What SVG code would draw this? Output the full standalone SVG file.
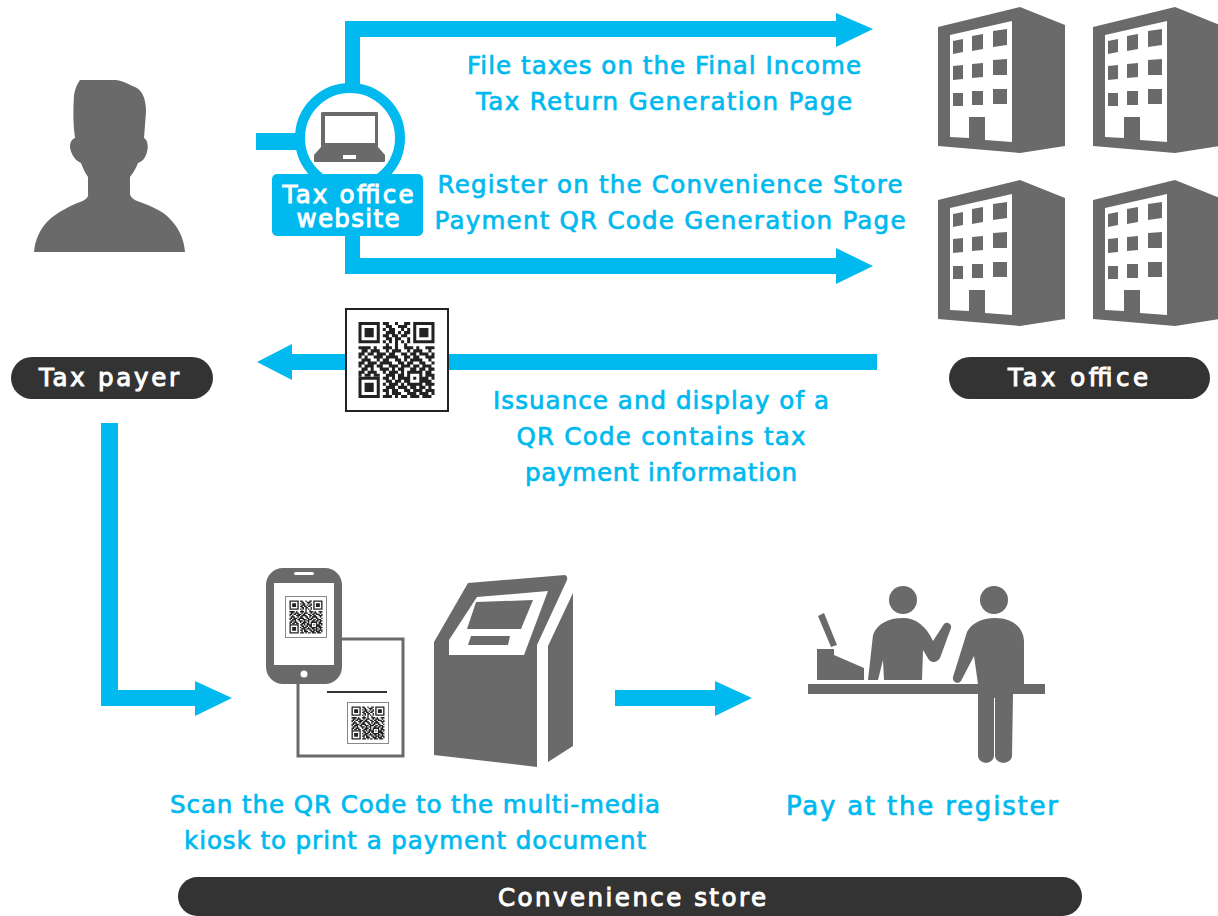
<svg xmlns="http://www.w3.org/2000/svg" xmlns:xlink="http://www.w3.org/1999/xlink" width="1218" height="916" viewBox="0 0 1218 916">
<style>
.b{fill:#00b9ef}
.g{fill:#6a6a6a}
.w{fill:#fff}
.t{font-family:"DejaVu Sans","Liberation Sans",sans-serif;font-size:24.500px;fill:#00b9ef;stroke:#00b9ef;stroke-width:.7px;text-anchor:middle}
.l{font-family:"DejaVu Sans","Liberation Sans",sans-serif;font-size:24.500px;fill:#fff;stroke:#fff;stroke-width:1px;text-anchor:middle}
</style>
<defs>
<g id="bld">
<path class="g" d="M938 27L1020 7L1065 25V146L1020 153L938 146Z"/>
<path class="w" d="M950 35L1012 21V142L985 140V117H969V138L950 137Z"/>
<path class="g" d="M953 41L963 39V52L953 54ZM972 36L983 34V49L972 51ZM993 31L1007 29V45L993 47ZM953 66L963 65V79L953 80ZM972 64L983 63V77L972 78ZM993 60L1007 59V75L993 75ZM953 93H963V106H953ZM972 91H983V105H972ZM993 89H1007V104H993Z"/>
</g>
<g id="qrm">
<path fill="#222" fill-rule="evenodd" d="M0 0h7v7h-7zM1 1v5h5v-5zM2 2h3v3h-3zM18 0h7v7h-7zM19 1v5h5v-5zM20 2h3v3h-3zM0 18h7v7h-7zM1 19v5h5v-5zM2 20h3v3h-3z"/>
<path fill="none" stroke="#222" stroke-width="1" d="M8 .5h2M12 .5h1M15 .5h2M9 1.500h2M13 1.500h3M8 2.500h1M10 2.500h2M14 2.500h1M16 2.500h1M9 3.500h3M13 3.500h1M15 3.500h2M8 4.500h2M11 4.500h2M14 4.500h2M9 5.500h2M12 5.500h2M16 5.500h1M8 6.500h1M10 6.500h1M12 6.500h1M14 6.500h1M16 6.500h1M9 7.500h1M12 7.500h1M15 7.500h1M0 8.500h4M5 8.500h1M8 8.500h3M12 8.500h1M15 8.500h3M19 8.500h1M22 8.500h3M1 9.500h2M4 9.500h3M9 9.500h1M11 9.500h3M16 9.500h1M18 9.500h3M23 9.500h1M0 10.500h2M3 10.500h2M6 10.500h3M10 10.500h2M14 10.500h2M17 10.500h2M20 10.500h3M24 10.500h1M0 11.500h1M2 11.500h1M5 11.500h3M9 11.500h4M15 11.500h2M18 11.500h2M22 11.500h3M1 12.500h3M6 12.500h1M8 12.500h2M12 12.500h2M15 12.500h1M17 12.500h4M23 12.500h1M0 13.500h2M3 13.500h3M7 13.500h4M13 13.500h2M16 13.500h2M20 13.500h2M24 13.500h1M0 14.500h1M2 14.500h3M6 14.500h2M10 14.500h3M14 14.500h3M18 14.500h2M21 14.500h3M1 15.500h2M4 15.500h1M7 15.500h3M11 15.500h1M13 15.500h2M17 15.500h2M20 15.500h2M23 15.500h2M0 16.500h2M3 16.500h3M8 16.500h1M10 16.500h3M14 16.500h1M16 16.500h5M22 16.500h2M0 17.500h1M2 17.500h2M5 17.500h2M9 17.500h3M13 17.500h2M16 17.500h1M20 17.500h1M22 17.500h3M8 18.500h2M11 18.500h1M13 18.500h3M16 18.500h1M18 18.500h1M20 18.500h1M21 18.500h2M24 18.500h1M9 19.500h2M12 19.500h2M15 19.500h2M20 19.500h4M8 20.500h1M10 20.500h3M14 20.500h1M16 20.500h5M22 20.500h3M9 21.500h3M13 21.500h3M17 21.500h2M20 21.500h2M23 21.500h1M8 22.500h2M11 22.500h2M15 22.500h2M18 22.500h3M22 22.500h3M9 23.500h1M11 23.500h3M16 23.500h3M20 23.500h3M24 23.500h1M8 24.500h3M12 24.500h1M14 24.500h2M17 24.500h3M21 24.500h3"/>
</g>
</defs>

<g id="connectors">
<path class="b" d="M345 84V21H836V13L873 29L836 47V37H360V84Z"/>
<path class="b" d="M345 236V274H836V284L873 266L836 248V258H360V236Z"/>
<rect class="b" x="256" y="133" width="45" height="17"/>
<path class="b" d="M877 354H292V344L257 362L292 380V370H877Z"/>
<path class="b" d="M101 423H118V690H195V681L232 698L195 716V706H101Z"/>
<path class="b" d="M615 690H715V681L752 698L715 716V706H615Z"/>
</g>

<g id="tax-payer">
<path class="g" d="M80 80L116 80C124 81 130 85 137 88C143 92 146 100 146 112L144 138C148 140 149 148 146 155C144 160 141 162 138 163C136 169 132 174 130 177V194C131 198 134 200 140 202C150 206 162 210 170 219C178 227 184 238 185 252H34C35 240 40 228 50 219C58 212 70 206 80 202C86 200 89 197 88 193V177C85 173 83 168 81 163C76 161 71 155 70 147C70 142 72 139 75 138C73 125 73 110 74 95C75 89 77 84 80 80Z"/>
<rect x="11" y="357" width="202" height="42" rx="21" fill="#333"/>
<text class="l" x="109" y="386" textLength="140" lengthAdjust="spacing">Tax payer</text>
</g>

<g id="tax-office-website">
<circle cx="350" cy="138" r="50" fill="#fff" stroke="#00b9ef" stroke-width="10"/>
<path class="g" d="M323 112H377Q378 112 378 113V147L385 155V161Q385 162 384 162H315Q314 162 314 161V155L321 147V113Q321 112 323 112Z"/>
<rect class="w" x="325" y="116" width="50" height="27"/>
<rect class="w" x="343" y="155" width="13" height="4"/>
<rect class="b" x="272" y="174" width="151" height="62" rx="5"/>
<text class="l" x="348" y="203" textLength="131" lengthAdjust="spacing">Tax office</text>
<text class="l" x="348" y="227" textLength="103" lengthAdjust="spacing">website</text>
</g>

<g id="labels">
<text class="t" x="664" y="74" textLength="394" lengthAdjust="spacing">File taxes on the Final Income</text>
<text class="t" x="664" y="110" textLength="376" lengthAdjust="spacing">Tax Return Generation Page</text>
<text class="t" x="670" y="193" textLength="465" lengthAdjust="spacing">Register on the Convenience Store</text>
<text class="t" x="670" y="229" textLength="471" lengthAdjust="spacing">Payment QR Code Generation Page</text>
<text class="t" x="661" y="409" textLength="336" lengthAdjust="spacing">Issuance and display of a</text>
<text class="t" x="661" y="445" textLength="289" lengthAdjust="spacing">QR Code contains tax</text>
<text class="t" x="661" y="481" textLength="272" lengthAdjust="spacing">payment information</text>
<text class="t" x="415" y="813" textLength="490" lengthAdjust="spacing">Scan the QR Code to the multi-media</text>
<text class="t" x="415" y="849" textLength="462" lengthAdjust="spacing">kiosk to print a payment document</text>
<text class="t" x="922" y="815" textLength="272" lengthAdjust="spacing" style="font-size:26px">Pay at the register</text>
</g>

<g id="qr-code">
<rect x="346" y="309" width="102" height="102" fill="#fff" stroke="#222" stroke-width="2"/>
<use xlink:href="#qrm" href="#qrm" transform="translate(358.500 322) scale(3.04)"/>
</g>

<g id="tax-office">
<use xlink:href="#bld" href="#bld"/>
<use xlink:href="#bld" href="#bld" x="155"/>
<use xlink:href="#bld" href="#bld" y="173"/>
<use xlink:href="#bld" href="#bld" x="155" y="173"/>
<rect x="949" y="357" width="261" height="42" rx="21" fill="#333"/>
<text class="l" x="1078" y="386" textLength="140" lengthAdjust="spacing">Tax office</text>
</g>

<g id="phone-and-slip">
<rect x="298" y="639" width="105" height="117" fill="#fff" stroke="#6a6a6a" stroke-width="3"/>
<rect x="327" y="691" width="60" height="2" fill="#333"/>
<rect x="347.500" y="702.500" width="41" height="41" fill="#fff" stroke="#888"/>
<use xlink:href="#qrm" href="#qrm" transform="translate(351.500 706.500) scale(1.32)"/>
<rect x="266" y="568" width="76" height="116" rx="17" class="g"/>
<rect x="274" y="583" width="60" height="82" class="w"/>
<rect x="294" y="572" width="20" height="3" rx="1.500" class="w"/>
<circle cx="304" cy="674" r="3.500" class="w"/>
<rect x="285.500" y="596.500" width="41" height="41" fill="#fff" stroke="#888"/>
<use xlink:href="#qrm" href="#qrm" transform="translate(289.500 600.500) scale(1.32)"/>
</g>

<g id="kiosk">
<path class="g" d="M434 642L468 583L565 575Q568 576 567 580L537 645V767L434 755Z"/>
<path class="g" d="M573 593V746L548 762V646Z"/>
<path class="w" d="M477 597L548 591L524 655H449V640Z"/>
<path class="g" d="M476 602L533 600L521 629H467ZM471 636H510L508 645H468Z"/>
</g>

<g id="register">
<circle cx="903" cy="600" r="14" class="g"/>
<circle cx="994" cy="600" r="14" class="g"/>
<path class="g" d="M818 616L824 613L837 645L831 647ZM817 649H834V655L864 668V680H817ZM868 680L873 635C877 624 888 618 903 618C916 618 926 626 933 641L944 624C947 621 952 624 951 628L940 658C937 663 932 663 929 660L923 650L922 680H884L883 660L878 680Z"/>
<rect class="g" x="808" y="684" width="237" height="10"/>
<path class="g" d="M953 677L967 632C972 622 984 618 995 618C1013 618 1024 628 1024 642V694H1013L1012 756C1011 765 996 765 995 756V698H994V756C993 765 979 765 978 756V684L974 656L961 681C958 685 952 682 953 677Z"/>
</g>

<g id="convenience-store">
<rect x="178" y="877" width="904" height="39" rx="19.500" fill="#333"/>
<text class="l" x="632" y="906" textLength="268" lengthAdjust="spacing">Convenience store</text>
</g>
</svg>
